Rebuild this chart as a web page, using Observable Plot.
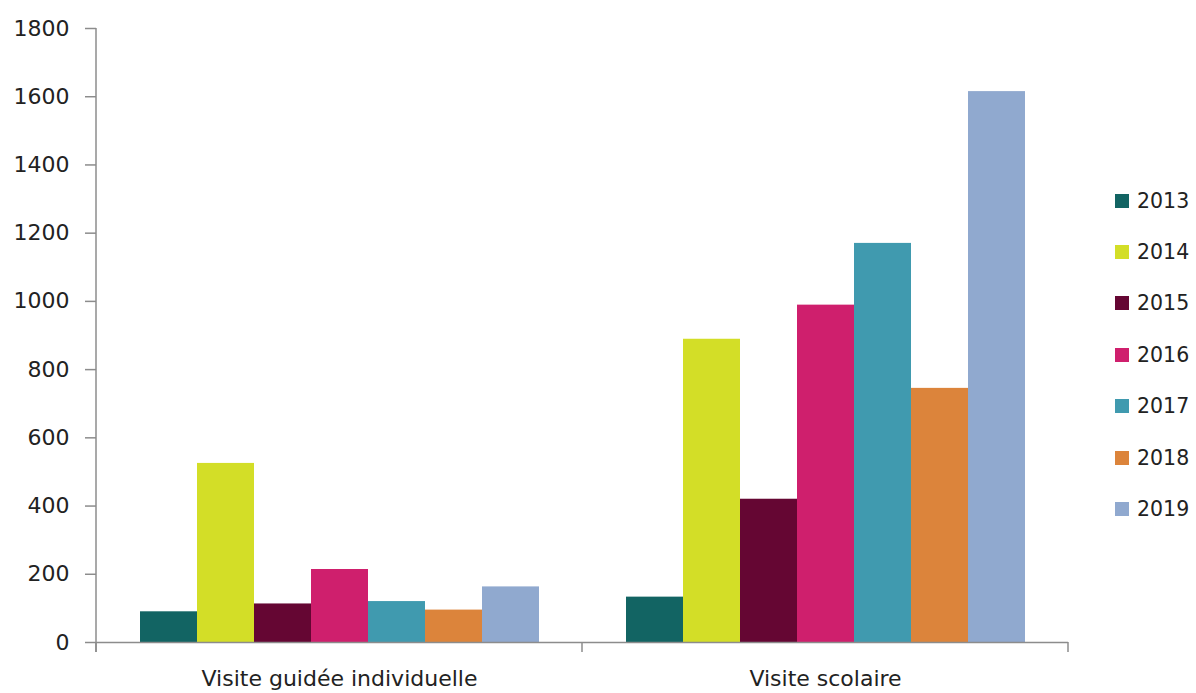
<!DOCTYPE html>
<html><head><meta charset="utf-8">
<script src="https://cdn.jsdelivr.net/npm/d3@7"></script>
<script src="https://cdn.jsdelivr.net/npm/@observablehq/plot@0.6"></script>
<style>
body{margin:0;background:#fff;font-family:"DejaVu Sans",sans-serif;}
#chart{position:relative;width:1196px;height:693px;overflow:hidden;}
#legend{position:absolute;left:1115px;top:175px;font-size:20.5px;color:#222;}
#legend .row{display:flex;align-items:center;height:51.4px;}
#legend .sw{width:14px;height:14px;margin-right:8px;}
</style>
</head><body><div id="chart"></div>
<script>
const categories = ["Visite guidée individuelle", "Visite scolaire"];
const years = ["2013", "2014", "2015", "2016", "2017", "2018", "2019"];
const visiteGuidee = [90, 525, 113, 214, 120, 95, 163];
const visiteScolaire = [133, 889, 420, 989, 1170, 745, 1615];
const colors = ["#126463", "#d3de27", "#650633", "#cf1f6d", "#409aaf", "#dc843b", "#90a9cf"];
const yTicks = [0, 200, 400, 600, 800, 1000, 1200, 1400, 1600, 1800];

const seriesByCategory = [visiteGuidee, visiteScolaire];
const data = [];
categories.forEach((c, ci) => years.forEach((y, yi) => data.push({category: c, year: y, value: seriesByCategory[ci][yi]})));

const axisGray = "#8c8c8c";
const plot = Plot.plot({
  width: 1196, height: 693,
  marginLeft: 96, marginRight: 128, marginTop: 28, marginBottom: 51,
  style: {fontFamily: "DejaVu Sans", fontSize: "22px", color: "#222", background: "#fff"},
  fx: {domain: categories, padding: 0, label: null},
  x: {domain: years, paddingInner: 0, paddingOuter: 0.74, axis: null},
  y: {domain: [0, 1800], label: null},
  color: {domain: years, range: colors},
  marks: [
    Plot.barY(data, {fx: "category", x: "year", y: "value", fill: "year"}),
    Plot.ruleY([0], {stroke: axisGray, strokeWidth: 1.5}),
    Plot.axisY(yTicks, {tickSize: 11, tickPadding: 16, label: null, stroke: axisGray, strokeWidth: 1.5, fill: "#222", fontSize: 22, tickFormat: d => String(d)}),
    Plot.axisFx({anchor: "bottom", tickSize: 0, tickPadding: 28, label: null, fill: "#222", fontSize: 22})
  ]
});
document.getElementById("chart").appendChild(plot);

// value-axis line and category boundary ticks, positioned from the plot's scales
const fx = plot.scale("fx");
const ys = plot.scale("y");
const y0 = ys.apply(0);
const yTop = ys.apply(1800);
const left = fx.apply(categories[0]);
const edges = categories.map(c => fx.apply(c)).concat([fx.apply(categories[categories.length - 1]) + fx.bandwidth]);
const g = d3.select(plot).append("g").attr("stroke", axisGray).attr("stroke-width", 1.5);
g.append("line").attr("x1", left).attr("x2", left).attr("y1", yTop).attr("y2", y0 + 10);
g.selectAll("line.edge").data(edges).join("line").attr("class", "edge")
  .attr("x1", d => d).attr("x2", d => d)
  .attr("y1", y0).attr("y2", y0 + 10);

// legend
const legend = d3.select("#chart").append("div").attr("id", "legend");
const rows = legend.selectAll("div").data(years).join("div").attr("class", "row");
rows.append("div").attr("class", "sw").style("background", (d, i) => colors[i]);
rows.append("span").text(d => d);
</script>
</body></html>
